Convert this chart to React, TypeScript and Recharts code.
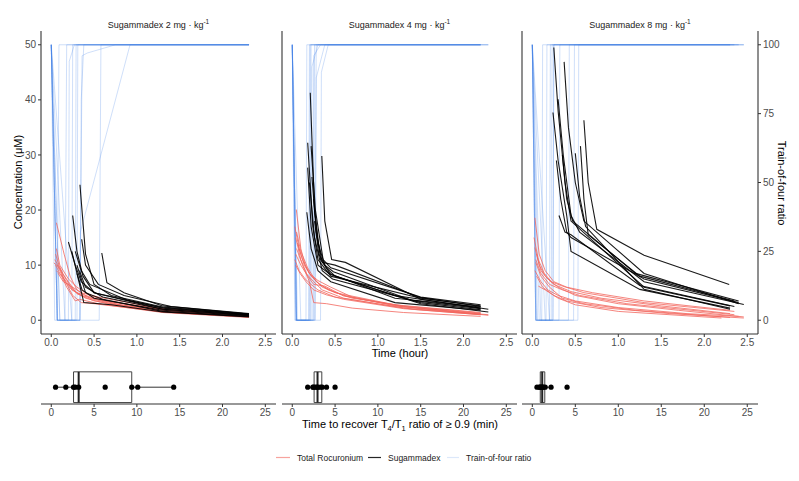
import React from 'react';
import { LineChart, Line, XAxis, YAxis, ComposedChart, Scatter, ReferenceArea, ReferenceLine } from 'recharts';

const FONT = '"Liberation Sans", Arial, sans-serif';

const doses = ['2', '4', '8'];
const hourTicks = [0, 0.5, 1, 1.5, 2, 2.5];
const concTicks = [0, 10, 20, 30, 40, 50];
const tofTicks = [0, 25, 50, 75, 100];
const minTicks = [0, 5, 10, 15, 20, 25];

// [hour, value] pairs, one array per patient
const tof2 = [
  [[0, 100], [0.04, 0], [0.07, 0], [0.09, 100], [2.31, 100]],
  [[0, 100], [0.07, 0], [0.16, 0], [0.18, 100], [2.31, 100]],
  [[0, 100], [0.1, 0], [0.2, 0], [0.21, 94], [0.27, 100], [2.31, 100]],
  [[0, 100], [0.07, 0], [0.24, 0], [0.25, 100], [2.31, 100]],
  [[0, 100], [0.07, 0], [0.3, 0], [0.31, 100], [2.31, 100]],
  [[0, 100], [0.07, 0], [0.335, 0], [0.35, 80], [0.38, 100], [2.31, 100]],
  [[0, 100], [0.16, 0], [0.335, 0], [0.36, 96], [0.42, 97], [0.75, 100], [2.31, 100]],
  [[0, 100], [0.1, 0], [0.335, 0], [0.34, 32], [0.92, 100], [2.31, 100]],
  [[0, 100], [0.07, 0], [0.56, 0], [0.58, 100], [2.31, 100]],
  [[0, 100], [0.24, 0], [0.28, 0], [0.29, 100], [2.31, 100]],
];
const roc2 = [
  [[0.06, 17.7], [0.15, 12], [0.22, 8], [0.3, 5.5], [0.45, 4], [0.7, 3], [1.3, 1.8], [2.31, 0.7]],
  [[0.03, 10.4], [0.08, 9.8], [0.13, 8.5], [0.2, 7], [0.3, 4.8], [0.5, 3.5], [1.3, 1.5], [2.31, 0.6]],
  [[0.05, 10], [0.1, 8.5], [0.15, 7.5], [0.25, 5.5], [0.4, 4], [0.65, 3], [1.3, 1.6], [2.31, 0.8]],
  [[0.06, 9], [0.12, 8], [0.18, 6], [0.28, 3.5], [0.33, 3.8], [0.55, 3], [1.3, 1.4], [2.31, 0.5]],
  [[0.04, 11], [0.1, 9.5], [0.16, 7], [0.24, 5.5], [0.35, 4.5], [0.6, 3.5], [1.4, 1.8], [2.31, 0.9]],
  [[0.08, 8.5], [0.14, 7], [0.2, 6.5], [0.3, 5], [0.5, 4], [0.8, 2.8], [1.4, 1.7], [2.31, 0.7]],
  [[0.05, 12], [0.09, 10], [0.15, 8], [0.22, 6.3], [0.35, 5], [0.55, 4.2], [1.3, 2.1], [2.31, 1]],
  [[0.07, 10], [0.13, 8], [0.25, 4.5], [0.35, 3.2], [0.5, 3], [1.3, 1.5], [2.31, 0.6]],
  [[0.06, 13], [0.1, 10], [0.2, 7.5], [0.3, 6], [0.45, 4.5], [0.7, 3.3], [1.5, 1.6], [2.31, 0.8]],
];
const sug2 = [
  [[0.335, 24.6], [0.4, 12], [0.5, 6.5], [0.7, 4.5], [1.3, 2.4], [2.31, 1.1]],
  [[0.25, 19], [0.3, 12.5], [0.37, 8], [0.5, 5], [1.3, 2.2], [2.31, 1]],
  [[0.2, 14.2], [0.28, 10], [0.35, 7], [0.5, 5], [1.3, 2], [2.31, 0.9]],
  [[0.355, 14.7], [0.4, 10], [0.55, 6.5], [0.85, 4.5], [1.4, 2.5], [2.31, 1.2]],
  [[0.28, 12.5], [0.35, 9], [0.45, 6.5], [0.9, 3.6], [1.3, 2.3], [2.31, 1]],
  [[0.59, 12.2], [0.65, 6.8], [0.85, 5], [1.3, 2.6], [2.31, 1.1]],
  [[0.24, 12.5], [0.3, 8.5], [0.36, 5.5], [0.5, 4], [1.3, 1.8], [2.31, 0.8]],
  [[0.3, 10], [0.35, 7.5], [0.4, 5], [0.6, 3.8], [1.3, 1.6], [2.31, 0.7]],
  [[0.3, 8.5], [0.38, 3.2], [0.7, 2.8], [1.3, 1.5], [2.31, 0.6]],
  [[0.33, 9], [0.4, 6], [0.6, 4.2], [1.3, 2], [2.31, 0.9]],
];

const tof4 = [
  [[0, 100], [0.03, 0], [0.16, 0], [0.17, 100], [2.2, 100]],
  [[0, 100], [0.05, 0], [0.2, 0], [0.21, 100], [2.2, 100]],
  [[0, 100], [0.05, 0], [0.22, 0], [0.23, 92], [0.3, 100], [2.29, 100]],
  [[0, 100], [0.04, 0], [0.25, 0], [0.26, 100], [2.2, 100]],
  [[0, 100], [0.05, 0], [0.27, 0], [0.28, 88], [0.38, 100], [2.2, 100]],
  [[0, 100], [0.1, 0], [0.33, 0], [0.34, 90], [0.42, 100], [2.29, 100]],
  [[0, 100], [0.05, 0], [0.19, 0], [0.2, 100], [2.2, 100]],
  [[0, 100], [0.06, 0], [0.24, 0], [0.25, 96], [0.33, 100], [2.2, 100]],
  [[0, 100], [0.04, 0], [0.21, 0], [0.22, 100], [2.2, 100]],
  [[0, 100], [0.05, 0], [0.26, 0], [0.28, 100], [2.29, 100]],
];
const roc4 = [
  [[0.047, 20.1], [0.1, 13], [0.15, 10], [0.22, 8], [0.35, 6], [0.6, 4.5], [1.2, 2.6], [2.2, 1.2]],
  [[0.03, 17], [0.08, 13], [0.14, 10], [0.2, 8.5], [0.32, 6.5], [0.5, 5], [1.2, 2.8], [2.2, 1.4]],
  [[0.04, 15], [0.1, 11], [0.18, 8], [0.25, 6.5], [0.38, 6.2], [0.6, 4.4], [1.3, 2.5], [2.2, 1.1]],
  [[0.05, 13], [0.12, 10], [0.2, 7], [0.25, 3.2], [0.4, 3], [0.7, 2.2], [1.3, 1.4], [2.2, 0.7]],
  [[0.04, 12], [0.1, 10], [0.16, 8.5], [0.25, 7], [0.35, 5.5], [0.6, 4], [1.3, 2.2], [2.29, 1]],
  [[0.03, 11], [0.08, 9], [0.15, 7.5], [0.22, 6.5], [0.3, 5.5], [0.5, 4.2], [1.4, 2], [2.2, 1]],
  [[0.05, 16], [0.1, 12.5], [0.18, 9.5], [0.28, 7], [0.42, 5.5], [0.7, 4], [1.3, 2.6], [2.2, 1.3]],
  [[0.04, 10], [0.09, 8.5], [0.16, 7], [0.25, 5.5], [0.4, 4.6], [0.6, 3.8], [1.3, 2.1], [2.2, 1]],
  [[0.06, 14], [0.12, 11], [0.2, 8.5], [0.3, 7.2], [0.45, 6], [0.7, 4.2], [1.3, 2.4], [2.29, 0.9]],
];
const sug4 = [
  [[0.21, 41.3], [0.26, 20], [0.33, 11], [0.45, 8.3], [1.2, 4.5], [2.2, 2.2]],
  [[0.18, 32.2], [0.24, 17], [0.3, 11], [0.45, 8], [1.5, 4], [2.2, 2.6]],
  [[0.22, 31.6], [0.27, 20], [0.36, 11], [0.45, 9.5], [1.5, 4.2], [2.2, 2.8]],
  [[0.345, 29.8], [0.38, 18], [0.46, 11], [0.62, 10.5], [1.5, 3.8], [2.29, 2]],
  [[0.18, 27.7], [0.22, 17], [0.3, 10], [0.43, 8.5], [1.2, 4], [2.2, 2.4]],
  [[0.17, 19.6], [0.22, 13], [0.3, 9], [0.45, 7], [1.2, 3.2], [2.2, 1.8]],
  [[0.2, 25], [0.26, 15], [0.35, 9], [0.47, 7.5], [1.5, 3.2], [2.2, 1.9]],
  [[0.25, 22], [0.3, 14], [0.38, 10], [0.48, 8.8], [1.4, 3.6], [2.2, 2.1]],
  [[0.26, 18], [0.31, 12], [0.4, 9.5], [0.5, 8], [1.5, 3], [2.29, 1.5]],
  [[0.23, 26], [0.28, 16], [0.35, 10.5], [0.5, 10], [1.5, 4.1], [2.2, 2.5]],
];

const tof8 = [
  [[0, 100], [0.04, 0], [0.2, 0], [0.21, 100], [2.46, 100]],
  [[0, 100], [0.04, 0], [0.24, 0], [0.25, 100], [2.4, 100]],
  [[0, 100], [0.1, 0], [0.31, 0], [0.32, 100], [2.35, 100]],
  [[0, 100], [0.06, 0], [0.42, 0], [0.43, 100], [2.3, 100]],
  [[0, 100], [0.05, 0], [0.48, 0], [0.49, 100], [2.46, 100]],
  [[0, 100], [0.04, 0], [0.53, 0], [0.54, 100], [2.3, 100]],
  [[0, 100], [0.15, 0], [0.22, 0], [0.23, 100], [2.35, 100]],
  [[0, 100], [0.04, 0], [0.11, 0], [0.12, 100], [2.4, 100]],
  [[0, 100], [0.2, 0], [0.24, 0], [0.25, 100], [2.46, 100]],
  [[0, 100], [0.08, 0], [0.16, 0], [0.17, 100], [2.3, 100]],
];
const roc8 = [
  [[0.03, 18.6], [0.08, 12], [0.15, 9], [0.25, 7], [0.4, 6], [0.7, 5], [1.3, 3.5], [2.3, 1.8]],
  [[0.02, 15], [0.07, 11], [0.14, 8.5], [0.22, 7], [0.35, 6.2], [0.6, 5], [1.3, 3.2], [2.35, 1.6]],
  [[0.03, 13.2], [0.08, 10], [0.15, 8], [0.25, 6.5], [0.45, 5.2], [0.8, 4], [1.5, 2.6], [2.3, 1.2]],
  [[0.05, 12], [0.1, 9], [0.18, 7.5], [0.3, 6], [0.5, 4.5], [1, 3], [1.7, 1.8], [2.46, 0.6]],
  [[0.04, 10.5], [0.1, 8], [0.2, 6], [0.35, 4], [0.6, 3], [1.2, 1.8], [2.3, 0.5]],
  [[0.07, 6.2], [0.15, 5.5], [0.3, 4], [0.5, 2.8], [1, 1.6], [2.2, 0.4]],
  [[0.03, 9], [0.1, 7], [0.18, 5.5], [0.3, 4.5], [0.5, 3.5], [1, 2.3], [1.8, 1.2], [2.4, 0.7]],
  [[0.04, 11], [0.1, 8.5], [0.2, 6.5], [0.35, 5.5], [0.55, 4.5], [1.1, 3], [2.35, 1]],
  [[0.05, 8], [0.12, 6], [0.25, 4.5], [0.4, 3.5], [0.8, 2.3], [1.6, 1.2], [2.46, 0.4]],
];
const sug8 = [
  [[0.25, 49.5], [0.3, 38], [0.38, 25], [0.45, 18], [1.3, 6], [2.3, 2.6]],
  [[0.37, 46.9], [0.42, 35], [0.5, 25], [0.6, 18], [1.3, 8.5], [2.4, 3]],
  [[0.3, 40.1], [0.36, 30], [0.45, 19], [0.55, 16], [1.3, 7], [2.46, 2.85]],
  [[0.24, 37.7], [0.3, 29], [0.4, 19], [0.45, 12.5], [1.25, 5.6], [2.3, 2.2]],
  [[0.6, 36.3], [0.65, 25], [0.75, 16.5], [1.3, 11.8], [2.29, 6.5]],
  [[0.56, 31.6], [0.6, 22], [0.65, 15.5], [1.25, 8], [2.35, 3.5]],
  [[0.5, 30.3], [0.55, 22.5], [0.62, 17], [1.3, 5.6], [2.3, 2]],
  [[0.31, 19], [0.38, 16], [0.45, 15.5], [1.25, 6.3], [2.35, 2.5]],
  [[0.28, 29], [0.33, 22], [0.4, 16], [0.45, 15], [1.3, 7.5], [2.4, 3.2]],
  [[0.35, 30], [0.4, 22], [0.47, 18], [1.2, 8.5], [2.4, 3.5]],
];

// minutes to TOF ratio >= 0.9
const recovery2 = [0.5, 1.7, 2.6, 2.8, 3.2, 6.3, 9.4, 10.1, 14.3];
const recovery4 = [1.8, 2.4, 2.5, 2.7, 2.9, 3.0, 3.3, 3.5, 4.0, 5.0];
const recovery8 = [0.54, 0.8, 0.9, 1.0, 1.1, 1.2, 1.3, 1.5, 2.18, 4.04];

const toPts = (arr: number[][]) => arr.map(([t, v]) => ({ t, v }));

const quantile = (s: number[], p: number) => {
  const h = (s.length - 1) * p;
  const lo = Math.floor(h);
  const hi = Math.min(lo + 1, s.length - 1);
  return s[lo] + (h - lo) * (s[hi] - s[lo]);
};
const boxStats = (vals: number[]) => {
  const s = [...vals].sort((a, b) => a - b);
  const q1 = quantile(s, 0.25);
  const med = quantile(s, 0.5);
  const q3 = quantile(s, 0.75);
  const iqr = q3 - q1;
  const lo = Math.min(...s.filter((v) => v >= q1 - 1.5 * iqr));
  const hi = Math.max(...s.filter((v) => v <= q3 + 1.5 * iqr));
  return { q1, med, q3, lo, hi };
};

const panels = [
  { dose: doses[0], tof: tof2, roc: roc2, sug: sug2, rec: recovery2, left: 0, width: 280, lw: 41, mr: 4, rw: 0 },
  { dose: doses[1], tof: tof4, roc: roc4, sug: sug4, rec: recovery4, left: 276, width: 245, lw: 6, mr: 4, rw: 0 },
  { dose: doses[2], tof: tof8, roc: roc8, sug: sug8, rec: recovery8, left: 516, width: 283, lw: 6, mr: 0, rw: 41 },
];

const axisLine = { stroke: '#333', strokeWidth: 1.1 };
const tickStyle = { fill: '#4d4d4d', fontSize: 10, fontFamily: FONT };
const BOX_LO = 0.03;
const BOX_HI = 0.67;
const BOX_MID = 0.35;

function TimePanel({ p, idx }: { p: any; idx: number }) {
  const showLeft = idx === 0;
  const showRight = idx === 2;
  return (
    <div style={{ position: 'absolute', left: p.left, top: 0 }}>
      <LineChart width={p.width} height={354} margin={{ top: 31, right: p.mr, left: 0, bottom: 0 }}>
        <XAxis
          type="number"
          dataKey="t"
          domain={[-0.12, 2.625]}
          ticks={hourTicks}
          tickFormatter={(v: number) => v.toFixed(1)}
          allowDataOverflow
          height={20}
          tickSize={3}
          axisLine={axisLine}
          tickLine={{ stroke: '#333' }}
          tick={tickStyle}
          interval={0}
        />
        <YAxis
          yAxisId="conc"
          type="number"
          domain={[-2.5, 52.5]}
          ticks={concTicks}
          allowDataOverflow
          width={p.lw}
          tickSize={3}
          axisLine={axisLine}
          tickLine={showLeft ? { stroke: '#333' } : false}
          tick={showLeft ? tickStyle : false}
          interval={0}
        />
        <YAxis
          yAxisId="tof"
          orientation="right"
          type="number"
          domain={[-5, 105]}
          ticks={tofTicks}
          allowDataOverflow
          hide={!showRight}
          width={p.rw || 1}
          tickSize={3}
          axisLine={axisLine}
          tickLine={{ stroke: '#333' }}
          tick={{ ...tickStyle, textAnchor: 'start' }}
          interval={0}
        />
        {p.tof.map((s: number[][], i: number) => (
          <Line key={'tof' + i} yAxisId="tof" data={toPts(s)} dataKey="v" type="linear" stroke="#3f7fe6"
            strokeOpacity={0.25} strokeWidth={1} dot={false} activeDot={false} isAnimationActive={false} />
        ))}
        {p.roc.map((s: number[][], i: number) => (
          <Line key={'roc' + i} yAxisId="conc" data={toPts(s)} dataKey="v" type="linear" stroke="#f2665e"
            strokeOpacity={0.8} strokeWidth={1} dot={false} activeDot={false} isAnimationActive={false} />
        ))}
        {p.sug.map((s: number[][], i: number) => (
          <Line key={'sug' + i} yAxisId="conc" data={toPts(s)} dataKey="v" type="linear" stroke="#000"
            strokeOpacity={0.9} strokeWidth={1.1} dot={false} activeDot={false} isAnimationActive={false} />
        ))}
      </LineChart>
    </div>
  );
}

function BoxPanel({ p }: { p: any }) {
  const b = boxStats(p.rec);
  const pts = p.rec.map((x: number) => ({ x, y: BOX_MID }));
  return (
    <div style={{ position: 'absolute', left: p.left, top: 350 }}>
      <ComposedChart width={p.width} height={75} margin={{ top: 6, right: p.mr + p.rw, left: p.lw, bottom: 0 }}>
        <XAxis
          type="number"
          dataKey="x"
          domain={[-1.2, 26.25]}
          ticks={minTicks}
          allowDataOverflow
          height={21}
          tickSize={3}
          axisLine={axisLine}
          tickLine={{ stroke: '#333' }}
          tick={tickStyle}
          interval={0}
        />
        <YAxis type="number" dataKey="y" domain={[0, 1]} hide />
        <ReferenceLine segment={[{ x: b.lo, y: BOX_MID }, { x: b.q1, y: BOX_MID }]} stroke="#333" strokeWidth={1} />
        <ReferenceLine segment={[{ x: b.q3, y: BOX_MID }, { x: b.hi, y: BOX_MID }]} stroke="#333" strokeWidth={1} />
        <ReferenceArea x1={b.q1} x2={b.q3} y1={BOX_LO} y2={BOX_HI} fill="#fff" fillOpacity={1} stroke="#444" strokeWidth={1} />
        <ReferenceLine segment={[{ x: b.med, y: BOX_LO }, { x: b.med, y: BOX_HI }]} stroke="#222" strokeWidth={2} />
        <Scatter data={pts} isAnimationActive={false}
          shape={(s: any) => <circle cx={s.cx} cy={s.cy} r={2.6} fill="#000" />} />
      </ComposedChart>
    </div>
  );
}

const titleCenters = [158.5, 399.5, 640];

export default function App() {
  return (
    <div style={{ position: 'absolute', left: 0, top: 0, width: 799, height: 481, background: '#fff', fontFamily: FONT, overflow: 'hidden' }}>
      {panels.map((p, i) => (
        <div key={'title' + i} style={{ position: 'absolute', left: titleCenters[i] - 100, top: 15, width: 200, textAlign: 'center', fontSize: 9, lineHeight: '14px', color: '#1a1a1a' }}>
          Sugammadex {p.dose} mg · kg<sup style={{ fontSize: 6.5 }}>-1</sup>
        </div>
      ))}
      {panels.map((p, i) => <TimePanel key={'tp' + i} p={p} idx={i} />)}
      {panels.map((p, i) => <BoxPanel key={'bp' + i} p={p} />)}
      <div style={{ position: 'absolute', left: 18 - 100, top: 182 - 8, width: 200, height: 16, lineHeight: '16px', textAlign: 'center', fontSize: 11, transform: 'rotate(-90deg)' }}>
        Concentration (μM)
      </div>
      <div style={{ position: 'absolute', left: 782 - 100, top: 183 - 8, width: 200, height: 16, lineHeight: '16px', textAlign: 'center', fontSize: 11, transform: 'rotate(90deg)' }}>
        Train-of-four ratio
      </div>
      <div style={{ position: 'absolute', left: 300, top: 345, width: 200, lineHeight: '16px', textAlign: 'center', fontSize: 11 }}>
        Time (hour)
      </div>
      <div style={{ position: 'absolute', left: 200, top: 416, width: 400, lineHeight: '16px', textAlign: 'center', fontSize: 11 }}>
        Time to recover T<sub style={{ fontSize: 7.5 }}>4</sub>/T<sub style={{ fontSize: 7.5 }}>1</sub> ratio of ≥ 0.9 (min)
      </div>
      <svg style={{ position: 'absolute', left: 0, top: 450 }} width={799} height={16}>
        <line x1={276} x2={290} y1={7.5} y2={7.5} stroke="#f2665e" strokeOpacity={0.6} strokeWidth={1.2} />
        <line x1={368} x2={381} y1={7.5} y2={7.5} stroke="#000" strokeOpacity={0.85} strokeWidth={1.2} />
        <line x1={447} x2={459} y1={7.5} y2={7.5} stroke="#3f7fe6" strokeOpacity={0.18} strokeWidth={1.2} />
        <text x={297} y={11} fontSize={8.5} fontFamily={FONT} fill="#1a1a1a">Total Rocuronium</text>
        <text x={388} y={11} fontSize={8.5} fontFamily={FONT} fill="#1a1a1a">Sugammadex</text>
        <text x={466} y={11} fontSize={8.5} fontFamily={FONT} fill="#1a1a1a">Train-of-four ratio</text>
      </svg>
    </div>
  );
}
